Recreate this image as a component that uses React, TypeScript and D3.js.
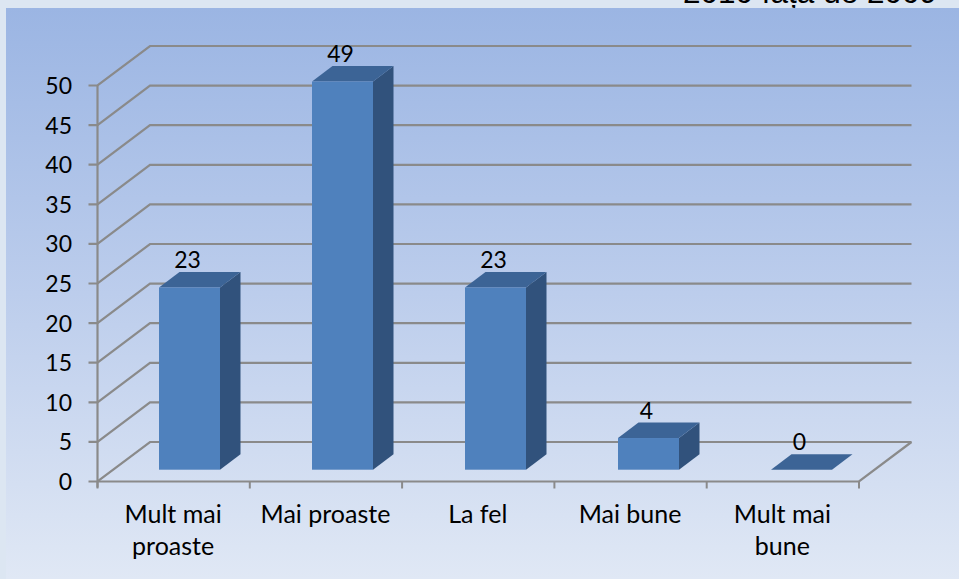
import React from "react";
import * as d3 from "d3";

const categories = [["Mult mai", "proaste"], ["Mai proaste"], ["La fel"], ["Mai bune"], ["Mult mai", "bune"]];
const values = [23, 49, 23, 4, 0];
const yTicks = [0, 5, 10, 15, 20, 25, 30, 35, 40, 45, 50];
const titleText = "2010 față de 2009";

const W = 959, H = 579;
const FONT = "Lato, 'Open Sans', sans-serif";
const GRID = "#8a8a8a";
const dx = 52.5, dy = 39.5;
const y = d3.scaleLinear().domain([0, 50]).range([481.5, 85.5]);
const x = d3.scaleBand<number>().domain(d3.range(5)).range([97.5, 859]).paddingInner(0).paddingOuter(0);
const xBar = d3.scaleBand<number>().domain(d3.range(5)).range([113, 878]).paddingInner(0).paddingOuter(0);
const barW = 61, bdx = 20.5, bdy = 15.5, offY = 11.8;

export default function App() {
  return (
    <svg width={W} height={H} style={{ position: "absolute", left: 0, top: 0 }}>
      <defs>
        <linearGradient id="bg" x1="0" y1="0" x2="0" y2="1">
          <stop offset="0" stopColor="#9bb5e3" />
          <stop offset="0.5" stopColor="#bccdec" />
          <stop offset="1" stopColor="#e0e8f5" />
        </linearGradient>
      </defs>
      <rect width={W} height={H} fill="#dce6f2" />
      <text x={937} y={3} textAnchor="end" fontFamily="Liberation Sans" fontSize={31.5} fill="#000">{titleText}</text>
      <rect x={6} y={8} width={W - 6} height={H - 8} fill="url(#bg)" />
      {yTicks.map((t) => (
        <path key={t} stroke={GRID} strokeWidth={2.2} fill="none"
          d={`M${x.range()[0] - 9},${y(t)}H${x.range()[0]}L${x.range()[0] + dx},${y(t) - dy}H${x.range()[1] + dx}`} />
      ))}
      <path d={`M${x.range()[0]},${y(50)}V${y(0) + 6}`} stroke={GRID} strokeWidth={2.2} fill="none" />
      <path d={`M${x.range()[0]},${y(0)}H${x.range()[1]}L${x.range()[1] + dx},${y(0) - dy}`} stroke={GRID} strokeWidth={2.2} fill="none" />
      {d3.range(6).map((i) => {
        const tx = x.range()[0] + i * x.step();
        return <path key={i} d={`M${tx},${y(0)}V${y(0) + 7}`} stroke={GRID} strokeWidth={2} />;
      })}
      {yTicks.map((t) => (
        <text key={t} x={72} y={y(t) + 8.5} textAnchor="end" fontFamily={FONT} fontSize={23} fill="#000">{t}</text>
      ))}
      {values.map((v, i) => {
        const x0 = (xBar(i) as number) + xBar.bandwidth() / 2 - barW / 2;
        const x1 = x0 + barW;
        const yb = y(0) - offY;
        const yt = yb - (y(0) - y(v));
        return (
          <g key={i}>
            <path d={`M${x1},${yt}L${x1 + bdx},${yt - bdy}V${yb - bdy}L${x1},${yb}Z`} fill="#31527c" />
            <path d={`M${x0},${yt}L${x0 + bdx},${yt - bdy}H${x1 + bdx}L${x1},${yt}Z`} fill="#3c6496" />
            <rect x={x0} y={yt} width={barW} height={yb - yt} fill="#4f81bd" />
            <text x={x0 + barW / 2 - 2} y={yt - 19.5} textAnchor="middle" fontFamily={FONT} fontSize={23} fill="#000">{v}</text>
          </g>
        );
      })}
      {categories.map((lines, i) => (
        <text key={i} textAnchor="middle" fontFamily={FONT} fontSize={25} fill="#000">
          {lines.map((l, j) => (
            <tspan key={j} x={(x(i) as number) + x.bandwidth() / 2 - 0.5} y={522.5 + j * 32.5}>{l}</tspan>
          ))}
        </text>
      ))}
    </svg>
  );
}
